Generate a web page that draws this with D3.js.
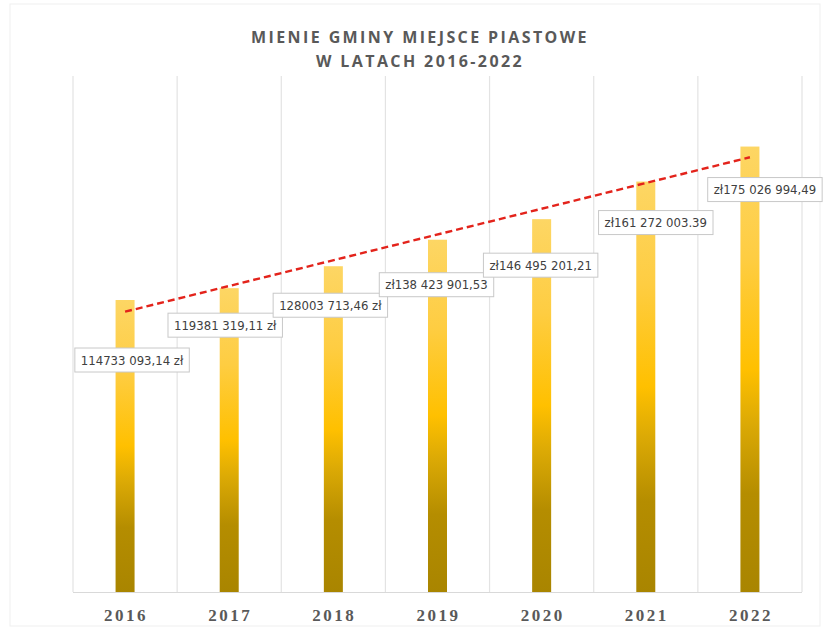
<!DOCTYPE html>
<html>
<head>
<meta charset="utf-8">
<script src="https://cdn.jsdelivr.net/npm/d3@7"></script>
<style>
  body { margin: 0; background: #fff; }
  .title { font-family: 'Open Sans', sans-serif; font-weight: 700; font-size: 16px; fill: #595959; letter-spacing: 2.4px; }
  .year { font-family: 'Liberation Serif', serif; font-weight: 700; font-size: 17px; fill: #595959; letter-spacing: 2.5px; }
  .lbl { font-family: 'Liberation Sans Narrow', 'DejaVu Sans Condensed', sans-serif; font-size: 13px; fill: #404040; }
</style>
</head>
<body>
<svg class="chart" width="827" height="628"></svg>
<script>
const years = ['2016', '2017', '2018', '2019', '2020', '2021', '2022']
const values = [114733093.14, 119381319.11, 128003713.46, 138423901.53, 146495201.21, 161272003.39, 175026994.49]
const labels = [
  '114733 093,14 zł', '119381 319,11 zł', '128003 713,46 zł', 'zł138 423 901,53',
  'zł146 495 201,21', 'zł161 272 003.39', 'zł175 026 994,49'
]
// where Excel left each data label, relative to the bar top
const labelOffsets = [[7, 60], [-4, 37], [-3, 39], [-1, 45], [-1, 46], [10, 41], [15, 43]]

const svg = d3.select('svg.chart')

const x = d3.scaleBand().domain(years).range([73, 802])
const y = d3.scaleLinear().domain([0, 200000000]).range([592, 83])

// faint chart frame
svg.append('rect')
  .attr('x', 10).attr('y', 4).attr('width', 810).attr('height', 622)
  .attr('fill', 'none').attr('stroke', '#efefef')

const grad = svg.append('defs').append('linearGradient')
  .attr('id', 'gold').attr('x1', 0).attr('y1', 0).attr('x2', 0).attr('y2', 1)
grad.selectAll('stop')
  .data([[0, '#fdd664'], [0.25, '#fecd42'], [0.5, '#ffc000'], [0.62, '#dcaa05'], [0.78, '#b58d00'], [1, '#a98500']])
  .enter().append('stop')
  .attr('offset', d => d[0]).attr('stop-color', d => d[1])

// vertical gridlines between categories
const edges = years.map(d => x(d)).concat([x.range()[1]])
svg.selectAll('line.grid')
  .data(edges)
  .enter().append('line')
  .attr('class', 'grid')
  .attr('x1', d => d).attr('x2', d => d)
  .attr('y1', 76).attr('y2', 592)
  .attr('stroke', '#e3e3e3').attr('stroke-width', 1.2)

svg.append('line')
  .attr('x1', 73).attr('x2', 802).attr('y1', 592.5).attr('y2', 592.5)
  .attr('stroke', '#d9d9d9')

const barW = 19
svg.selectAll('rect.bar')
  .data(values)
  .enter().append('rect')
  .attr('class', 'bar')
  .attr('x', (d, i) => x(years[i]) + x.bandwidth() / 2 - barW / 2)
  .attr('y', d => y(d))
  .attr('width', barW)
  .attr('height', d => y(0) - y(d))
  .attr('fill', 'url(#gold)')

// linear trendline
const n = values.length
const mx = (n - 1) / 2
const my = d3.mean(values)
const slope = d3.sum(values, (d, i) => (i - mx) * (d - my)) / d3.sum(values, (d, i) => (i - mx) * (i - mx))
const icpt = my - slope * mx
const cx = i => x(years[i]) + x.bandwidth() / 2
svg.append('line')
  .attr('x1', cx(0)).attr('y1', y(icpt))
  .attr('x2', cx(n - 1)).attr('y2', y(icpt + slope * (n - 1)))
  .attr('stroke', '#e3231b').attr('stroke-width', 2.4)
  .attr('stroke-dasharray', '7,4')

// data labels
const lg = svg.selectAll('g.lbl')
  .data(values)
  .enter().append('g')
  .attr('transform', (d, i) => `translate(${cx(i) + labelOffsets[i][0]},${y(d) + labelOffsets[i][1]})`)

lg.append('rect')
  .attr('fill', '#fff').attr('stroke', '#c8c8c8')
lg.append('text')
  .attr('class', 'lbl')
  .attr('text-anchor', 'middle')
  .attr('y', 4.5)
  .text((d, i) => labels[i])
lg.each(function () {
  const g = d3.select(this)
  const w = g.select('text').node().getComputedTextLength() + 12
  g.select('rect').attr('x', -w / 2).attr('y', -12).attr('width', w).attr('height', 24)
})

svg.selectAll('text.year')
  .data(years)
  .enter().append('text')
  .attr('class', 'year')
  .attr('text-anchor', 'middle')
  .attr('x', d => x(d) + x.bandwidth() / 2 + 1)
  .attr('y', 621)
  .text(d => d)

svg.append('text').attr('class', 'title').attr('text-anchor', 'middle')
  .attr('x', 420).attr('y', 43).text('MIENIE GMINY MIEJSCE PIASTOWE')
svg.append('text').attr('class', 'title').attr('text-anchor', 'middle')
  .attr('x', 420).attr('y', 67).text('W LATACH 2016-2022')
</script>
</body>
</html>
